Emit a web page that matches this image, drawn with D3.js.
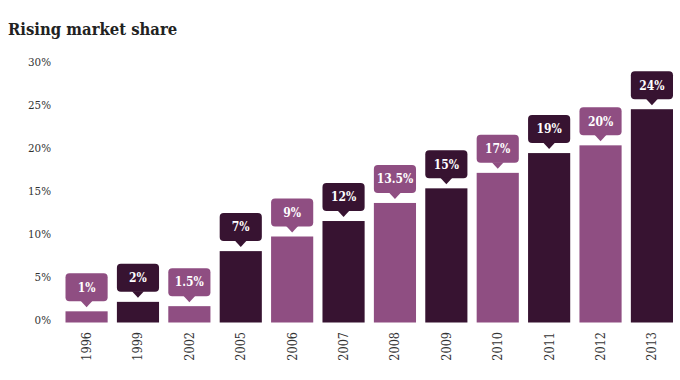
<!DOCTYPE html>
<html><head><meta charset="utf-8">
<script src="https://cdn.jsdelivr.net/npm/d3@7"></script>
<style>
body{margin:0;background:#fff;}
svg{display:block;}
</style></head>
<body>
<svg id="chart" width="680" height="380"></svg>
<script>
const years = ["1996","1999","2002","2005","2006","2007","2008","2009","2010","2011","2012","2013"];
const values = [1.3, 2.4, 1.9, 8.3, 10.0, 11.8, 13.9, 15.6, 17.4, 19.7, 20.6, 24.8];
const labels = ["1%","2%","1.5%","7%","9%","12%","13.5%","15%","17%","19%","20%","24%"];
const yTicks = [0, 5, 10, 15, 20, 25, 30];
const title = "Rising market share";

const dark = "#371331", light = "#8f4e82";
const slab = "'DejaVu Serif Condensed','DejaVu Serif',serif";

const svg = d3.select("#chart");
svg.append("text").attr("x", 8).attr("y", 35)
  .attr("font-family", slab).attr("font-weight", "bold").attr("font-size", 16.5)
  .attr("fill", "#222").text(title);

const x = d3.scaleBand().domain(years).range([65.5, 673]).paddingInner(0.18).paddingOuter(0);
const y = d3.scaleLinear().domain([0, 30]).range([322.5, 64.5]);

// y axis labels
const yAxis = d3.axisLeft(y).tickValues(yTicks).tickFormat(d => d + "%").tickSize(0).tickPadding(0);
const ga = svg.append("g").attr("transform", "translate(51,-3)").call(yAxis);
ga.select(".domain").remove();
ga.selectAll("text").attr("font-family", slab).attr("font-size", 11.5).attr("fill", "#333");

// x axis labels
const xAxis = d3.axisBottom(x).tickSize(0).tickPadding(0);
const gx = svg.append("g").attr("transform", "translate(0,332)").call(xAxis);
gx.select(".domain").remove();
gx.selectAll("text").attr("font-family", slab).attr("font-size", 12.5).attr("fill", "#333")
  .attr("transform", "rotate(-90)").attr("text-anchor", "end").attr("dy", "0.35em").attr("y", 0).attr("x", 0);

const data = years.map((yr, i) => ({yr, v: values[i], lab: labels[i], c: i % 2 === 0 ? light : dark}));

svg.append("g").selectAll("rect").data(data).join("rect")
  .attr("x", d => x(d.yr)).attr("width", x.bandwidth())
  .attr("y", d => y(d.v)).attr("height", d => y(0) - y(d.v))
  .attr("fill", d => d.c);

// callouts
const boxH = 28, gap = 4, tipH = 6, tipW = 12;
const g = svg.append("g").selectAll("g").data(data).join("g")
  .attr("transform", d => `translate(${x(d.yr)},${y(d.v) - gap - tipH - boxH})`);
g.append("rect").attr("width", x.bandwidth()).attr("height", boxH).attr("rx", 4).attr("fill", d => d.c);
g.append("path").attr("d", () => {
  const cx = x.bandwidth() / 2;
  return `M${cx - tipW / 2},${boxH - 0.5} L${cx + tipW / 2},${boxH - 0.5} L${cx},${boxH + tipH} Z`;
}).attr("fill", d => d.c);
g.append("text").attr("x", x.bandwidth() / 2).attr("y", boxH / 2).attr("dy", "0.36em")
  .attr("text-anchor", "middle").attr("font-family", slab).attr("font-weight", "bold")
  .attr("font-size", 12).attr("fill", "#fff").text(d => d.lab);
</script>
</body></html>
